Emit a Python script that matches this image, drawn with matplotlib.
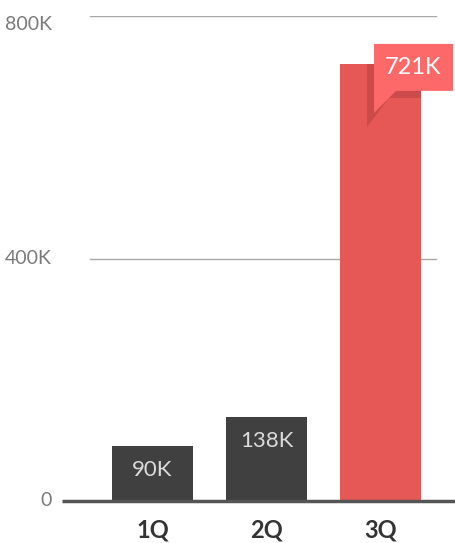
import matplotlib.pyplot as plt
from matplotlib.patches import Polygon

plt.rcParams['font.family'] = ['Lato', 'DejaVu Sans']

quarters = ['1Q', '2Q', '3Q']
sales = [90000, 138000, 721000]
value_labels = ['90K', '138K', '721K']
grid_values = [0, 400000, 800000]
grid_labels = ['0', '400K', '800K']

dark = '#404040'
red = '#e55856'
callout_red = '#fd6969'
shadow_red = '#cc4a4a'

W, H = 456, 543
fig = plt.figure(figsize=(W / 100, H / 100), dpi=100)
# axes spans pixel x 62..456, y 16..501 (from top)
ax = fig.add_axes([62 / W, (H - 501) / H, (W - 62) / W, (501 - 16) / H])
ax.set_xlim(-0.794, 2.662)
ax.set_ylim(0, 800000)
ax.axis('off')

px_x = 1 / 114          # data units per pixel, x
px_y = 800000 / 485     # data units per pixel, y
bw = 0.71
x = list(range(len(quarters)))

# gridlines and y labels
for v, lab in zip(grid_values, grid_labels):
    if v > 0:
        ax.plot([-0.548, 2.487], [v, v], color='#a8a8a8', lw=1, zorder=1)
    ax.text(-0.794 - 10 * px_x, v + (-8 * px_y if v == 800000 else 0), lab,
            ha='right', va='center', fontsize=14, color='#7a7a7a',
            clip_on=False)

colors = [dark, dark, red]
bars = ax.bar(x, sales, width=bw, color=colors, zorder=2)

# baseline
ax.plot([-0.794, 2.662], [0, 0], color='#555555', lw=2.5, zorder=3,
        solid_capstyle='butt', clip_on=False)

for i, (b, v, lab) in enumerate(zip(bars, sales, value_labels)):
    ax.text(i, -29 * px_y, quarters[i], ha='center', va='center',
            fontsize=17, color='#333333', fontweight='bold', clip_on=False)
    if i < 2:
        ax.text(i, v - 24 * px_y, lab, ha='center', va='center',
                fontsize=16, color='#dcdcdc')

# callout on the last bar
i = 2
v = sales[i]
x0 = i - bw / 2 + 34 * px_x
x1 = i + bw / 2 + 32 * px_x
top = v + 20 * px_y
bot = v - 27 * px_y
tip = bot - 22 * px_y
ptr_w = 22 * px_x

sx, sy = -7 * px_x, -7 * px_y
shadow = Polygon([(x0 + sx, top + sy), (x1 + sx, top + sy), (x1 + sx, bot + sy),
                  (x0 + ptr_w + sx, bot + sy), (x0 + sx, tip - 14 * px_y)],
                 closed=True, color=shadow_red, lw=0, zorder=3)
ax.add_patch(shadow)
shadow.set_clip_path(bars[i])

callout = Polygon([(x0, top), (x1, top), (x1, bot), (x0 + ptr_w, bot), (x0, tip)],
                  closed=True, color=callout_red, lw=0, zorder=4, clip_on=False)
ax.add_patch(callout)
ax.text((x0 + x1) / 2, (top + bot) / 2, value_labels[i], ha='center', va='center',
        fontsize=17, color='white', zorder=5, clip_on=False)

fig.savefig('out.png', dpi=100)
